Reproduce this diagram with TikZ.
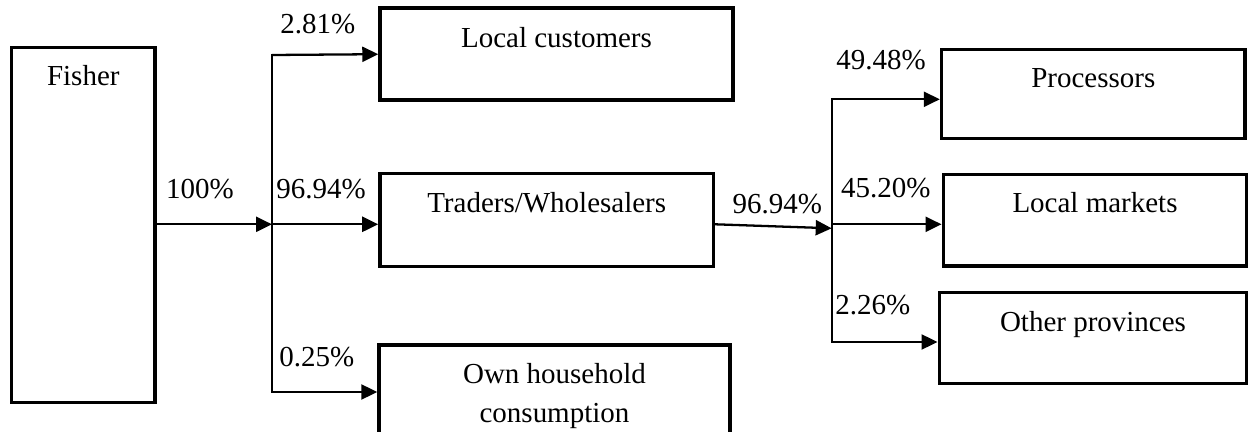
\documentclass[tikz,border=0pt]{standalone}
\usepackage{fontspec}
\setmainfont{Liberation Serif}
\usetikzlibrary{arrows.meta}

\begin{document}
\begin{tikzpicture}[x=0.02cm, y=-0.02cm,
	flowbox/.style={draw, line width=2pt, inner xsep=0pt, inner ysep=0pt, align=center, font=\fontsize{16.5}{22.2}\selectfont},
	pct/.style={anchor=base west, inner sep=0pt, font=\fontsize{16.5}{20}\selectfont},
	flow/.style={line width=1.3pt, -{Triangle[length=0.32cm, width=0.3cm]}},
	trunk/.style={line width=1.3pt, line cap=rect}]
			%%%%% START %%%%%
			
			\useasboundingbox (0,0) rectangle (1249,432);
			
			\node[flowbox, minimum width=2.87cm, text height=0.76cm, text depth=6.34cm] (fisher) at (83.3,225.2) {Fisher};
			
			\node[flowbox, minimum width=7.06cm, text height=0.78cm, text depth=1.06cm] (lc) at (556.5,54.2) {Local customers};
			\node[flowbox, minimum width=6.67cm, text height=0.78cm, text depth=1.08cm] (tw) at (546.7,220) {Traders/Wholesalers};
			\node[flowbox, minimum width=7.02cm, text height=1.54cm, text depth=1.5cm, anchor=north] (oh) at (554.5,343.3) {Own household\\consumption};
			
			\node[flowbox, minimum width=6.07cm, text height=0.76cm, text depth=1.02cm] (pr) at (1093.3,93.8) {Processors};
			\node[flowbox, minimum width=6.07cm, text height=0.77cm, text depth=1.06cm] (lm) at (1095,220.2) {Local markets};
			\node[flowbox, minimum width=6.15cm, text height=0.78cm, text depth=1.04cm] (op) at (1093,337.8) {Other provinces};
			
			\coordinate (j1) at (272,224.3);
			\coordinate (j1top) at (272,55);
			\coordinate (j1bot) at (272,392);
			
			\coordinate (j2in) at (831.7,228.3);
			\coordinate (j2mid) at (831.7,224.3);
			\coordinate (j2top) at (831.7,99.3);
			\coordinate (j2bot) at (831.7,342);
			
			\draw[flow] (fisher.east |- j1) -- (j1);
			\draw[trunk] (j1top) -- (j1bot);
			\draw[flow] (j1top) -- (lc.west);
			\draw[flow] (j1) -- (j1 -| tw.west);
			\draw[flow] (j1bot) -- (j1bot -| oh.west);
			
			\draw[flow] (tw.east |- j1) -- (j2in);
			\draw[trunk] (j2top) -- (j2bot);
			\draw[flow] (j2top) -- (j2top -| pr.west);
			\draw[flow] (j2mid) -- (j2mid -| lm.west);
			\draw[flow] (j2bot) -- (j2bot -| op.west);
			
			\node[pct] (p100) at (165.7,198.3) {100\%};
			\node[pct] (plc) at (280,33.3) {2.81\%};
			\node[pct] (ptw) at (276,199) {96.94\%};
			\node[pct] (poh) at (279,366.7) {0.25\%};
			\node[pct] (pout) at (732.3,213.3) {96.94\%};
			\node[pct] (ppr) at (836,69.3) {49.48\%};
			\node[pct] (plm) at (840.7,197.7) {45.20\%};
			\node[pct] (pop) at (835,315) {2.26\%};
			
			%%%%% END %%%%%
\end{tikzpicture}
\end{document}
